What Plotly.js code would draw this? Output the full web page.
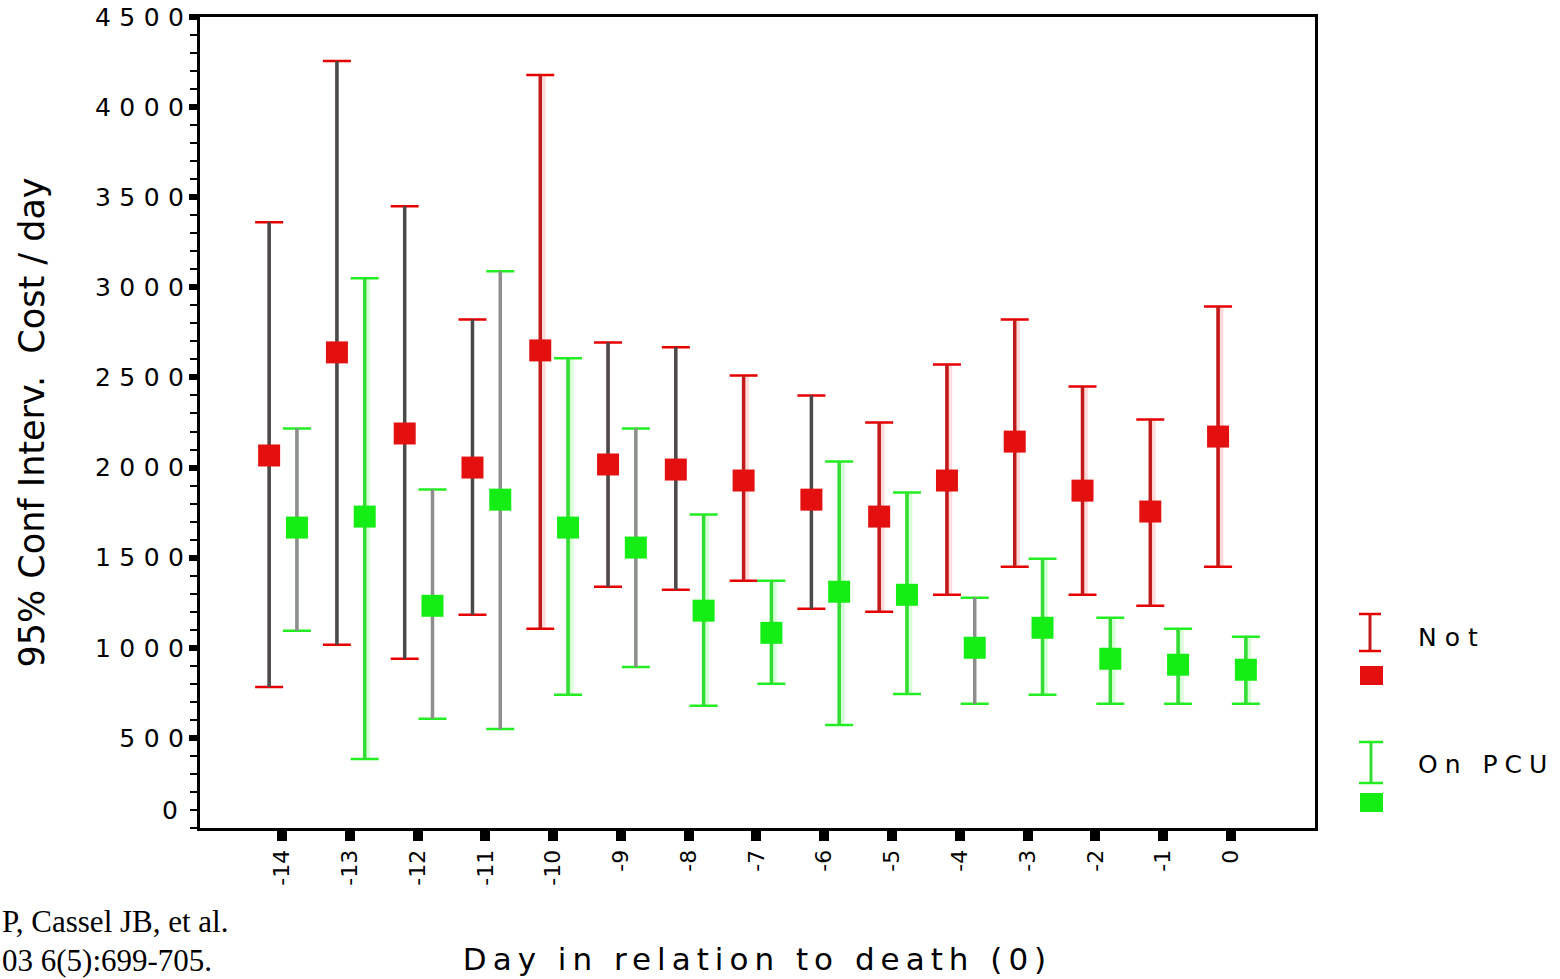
<!DOCTYPE html>
<html>
<head>
<meta charset="utf-8">
<script src="https://cdn.plot.ly/plotly-3.0.1.min.js"></script>
<style>
  html, body { margin: 0; padding: 0; background: #fff; }
  #chart { width: 1560px; height: 979px; }
  .g-xtitle text { letter-spacing: 6px; }
</style>
</head>
<body>
<div id="chart"></div>
<script>
// ---- data ----
const days = [-14, -13, -12, -11, -10, -9, -8, -7, -6, -5, -4, -3, -2, -1, 0];
const dayLabels = ["-14", "-13", "-12", "-11", "-10", "-9", "-8", "-7", "-6", "-5", "-4", "-3", "-2", "-1", "0"];

const notMean  = [2067, 2639, 2189, 2000, 2650, 2017, 1989, 1928, 1822, 1728, 1928, 2144, 1872, 1756, 2172];
const notUpper = [3361, 4256, 3450, 2822, 4178, 2694, 2667, 2511, 2400, 2250, 2572, 2822, 2450, 2267, 2894];
const notLower = [ 783, 1017,  939, 1183, 1106, 1339, 1322, 1372, 1217, 1200, 1294, 1450, 1294, 1233, 1450];

const pcuMean  = [1667, 1728, 1233, 1822, 1667, 1556, 1206, 1083, 1311, 1294, 1000, 1111,  939,  906,  878];
const pcuUpper = [2217, 3050, 1878, 3089, 2606, 2217, 1739, 1372, 2033, 1861, 1278, 1494, 1167, 1106, 1061];
const pcuLower = [1094,  383,  606,  550,  739,  894,  678,  800,  572,  744,  689,  739,  689,  689,  689];

const yTickVals = [500, 1000, 1500, 2000, 2500, 3000, 3500, 4000, 4500];
const yTickText = ["500", "1000", "1500", "2000", "2500", "3000", "3500", "4000", "4500"];

// style groups: days whose interval stem is drawn grey in the original
const notGreyStemDays = [-14, -13, -12, -11, -9, -8, -6];
const pcuGreyStemDays = [-14, -12, -11, -9, -4];

// ---- styling ----
const NOT_OFFSET = -0.19, PCU_OFFSET = 0.22;
const C = {
  notMarker: '#e41010', notCap: '#e60000', notStem: '#c21a1a', notGrey: '#4a4a4a', notFringe: '#ffdcdc',
  pcuMarker: '#14ee14', pcuCap: '#22ee22', pcuStem: '#33dd33', pcuGrey: '#8e8e8e', pcuFringe: '#d8ffd8'
};
// wide spacing between digits, none after the last one
const spaced = (s, gap) => '<span style="letter-spacing:' + gap + 'px">' + s.slice(0, -1) + '</span>' + s.slice(-1);

function sub(arr, idx) { return idx.map(i => arr[i]); }
function errTrace(offset, mean, upper, lower, idx, color, thickness, width, dx) {
  const x = sub(days, idx).map(d => d + offset + (dx || 0));
  const m = sub(mean, idx);
  return {
    type: 'scatter', mode: 'markers', x: x, y: m,
    marker: {size: 1, opacity: 0}, hoverinfo: 'skip', showlegend: false,
    error_y: {
      type: 'data', symmetric: false,
      array: sub(upper, idx).map((u, k) => u - m[k]),
      arrayminus: sub(lower, idx).map((l, k) => m[k] - l),
      color: color, thickness: thickness, width: width
    }
  };
}
const all = days.map((d, i) => i);
const notGreyIdx = all.filter(i => notGreyStemDays.includes(days[i]));
const notRedIdx = all.filter(i => !notGreyStemDays.includes(days[i]));
const pcuGreyIdx = all.filter(i => pcuGreyStemDays.includes(days[i]));
const pcuGreenIdx = all.filter(i => !pcuGreyStemDays.includes(days[i]));

const traces = [
  // light fringes beside coloured stems
  errTrace(NOT_OFFSET, notMean, notUpper, notLower, notRedIdx, C.notFringe, 6, 0, 0.035),
  errTrace(PCU_OFFSET, pcuMean, pcuUpper, pcuLower, pcuGreenIdx, C.pcuFringe, 6, 0, 0.035),
  // caps
  errTrace(NOT_OFFSET, notMean, notUpper, notLower, all, C.notCap, 2.5, 14),
  errTrace(PCU_OFFSET, pcuMean, pcuUpper, pcuLower, all, C.pcuCap, 2.5, 14),
  // stems
  errTrace(NOT_OFFSET, notMean, notUpper, notLower, notGreyIdx, C.notGrey, 3.5, 0),
  errTrace(NOT_OFFSET, notMean, notUpper, notLower, notRedIdx, C.notStem, 3.5, 0),
  errTrace(PCU_OFFSET, pcuMean, pcuUpper, pcuLower, pcuGreyIdx, C.pcuGrey, 3.5, 0),
  errTrace(PCU_OFFSET, pcuMean, pcuUpper, pcuLower, pcuGreenIdx, C.pcuStem, 3.5, 0),
  // means
  {type: 'scatter', mode: 'markers', name: 'Not', x: days.map(d => d + NOT_OFFSET), y: notMean,
   marker: {symbol: 'square', size: 22, color: C.notMarker, line: {width: 0}}, showlegend: false},
  {type: 'scatter', mode: 'markers', name: 'On PCU', x: days.map(d => d + PCU_OFFSET), y: pcuMean,
   marker: {symbol: 'square', size: 22, color: C.pcuMarker, line: {width: 0}}, showlegend: false}
];

// pixel -> paper helpers for the hand-drawn legend
const L = 200, R = 1315, T = 17, B = 828;
const px = x => (x - L) / (R - L);
const py = y => (B - y) / (B - T);

const shapes = [
  // Not legend key
  {type: 'line', xref: 'paper', yref: 'paper', x0: px(1370), x1: px(1370), y0: py(614), y1: py(651), line: {color: C.notStem, width: 3}},
  {type: 'line', xref: 'paper', yref: 'paper', x0: px(1359), x1: px(1381), y0: py(614), y1: py(614), line: {color: C.notCap, width: 2.5}},
  {type: 'line', xref: 'paper', yref: 'paper', x0: px(1359), x1: px(1381), y0: py(651), y1: py(651), line: {color: C.notCap, width: 2.5}},
  {type: 'rect', xref: 'paper', yref: 'paper', x0: px(1360), x1: px(1383), y0: py(666), y1: py(685), fillcolor: C.notMarker, line: {width: 0}},
  // On PCU legend key
  {type: 'line', xref: 'paper', yref: 'paper', x0: px(1371), x1: px(1371), y0: py(742), y1: py(783), line: {color: C.pcuStem, width: 3}},
  {type: 'line', xref: 'paper', yref: 'paper', x0: px(1359), x1: px(1383), y0: py(742), y1: py(742), line: {color: C.pcuCap, width: 2.5}},
  {type: 'line', xref: 'paper', yref: 'paper', x0: px(1359), x1: px(1383), y0: py(783), y1: py(783), line: {color: C.pcuCap, width: 2.5}},
  {type: 'rect', xref: 'paper', yref: 'paper', x0: px(1360), x1: px(1383), y0: py(793), y1: py(812), fillcolor: C.pcuMarker, line: {width: 0}}
];

const annotations = [
  {xref: 'paper', yref: 'paper', x: px(1416), y: py(637), xanchor: 'left', yanchor: 'middle', showarrow: false,
   text: spaced('Not', 8), font: {family: 'DejaVu Sans', size: 25, color: '#000'}},
  {xref: 'paper', yref: 'paper', x: px(1416), y: py(764), xanchor: 'left', yanchor: 'middle', showarrow: false,
   text: spaced('On PCU', 7), font: {family: 'DejaVu Sans', size: 25, color: '#000'}},
  // the zero label sits a little above its tick in the original
  {xref: 'paper', yref: 'paper', x: px(180), y: py(810), xanchor: 'right', yanchor: 'middle', showarrow: false,
   text: '0', font: {family: 'DejaVu Sans', size: 25, color: '#000'}},
  // citation fragments at bottom-left
  {xref: 'paper', yref: 'paper', x: px(0), y: py(921), xanchor: 'left', yanchor: 'middle', showarrow: false,
   text: 'P, Cassel JB, et al.', font: {family: 'Liberation Serif', size: 31, color: '#000'}},
  {xref: 'paper', yref: 'paper', x: px(0), y: py(960), xanchor: 'left', yanchor: 'middle', showarrow: false,
   text: '03 6(5):699-705.', font: {family: 'Liberation Serif', size: 31, color: '#000'}}
];

const layout = {
  width: 1560, height: 979,
  margin: {l: L, r: 1560 - R, t: T, b: 979 - B, pad: 0},
  paper_bgcolor: '#ffffff', plot_bgcolor: '#ffffff',
  showlegend: false,
  font: {family: 'DejaVu Sans', color: '#000'},
  xaxis: {
    range: [-15.21, 1.24], showgrid: false, zeroline: false,
    showline: true, linecolor: '#000', linewidth: 3, mirror: true,
    tickmode: 'array', tickvals: days, ticktext: dayLabels,
    ticks: 'outside', ticklen: 10, tickwidth: 10, tickcolor: '#000',
    tickangle: -90, tickfont: {family: 'DejaVu Sans', size: 22, color: '#000'},
    title: {text: 'Day in relation to death (0)', font: {family: 'DejaVu Sans', size: 31, color: '#000'}, standoff: 64}
  },
  yaxis: {
    range: [0, 4500], showgrid: false, zeroline: false,
    showline: true, linecolor: '#000', linewidth: 3, mirror: true,
    tickmode: 'array', tickvals: yTickVals, ticktext: yTickText.map(t => spaced(t, 8.5)),
    ticks: 'outside', ticklen: 8, tickwidth: 6, tickcolor: '#000',
    minor: {dtick: 100, ticks: 'outside', ticklen: 7, tickwidth: 2, tickcolor: '#000', showgrid: false},
    tickfont: {family: 'DejaVu Sans', size: 25, color: '#000'},
    title: {text: '95% Conf Interv.  Cost / day', font: {family: 'DejaVu Sans', size: 35, color: '#000'}, standoff: 40}
  },
  shapes: shapes,
  annotations: annotations
};

Plotly.newPlot('chart', traces, layout, {staticPlot: true, displayModeBar: false});
</script>
</body>
</html>
